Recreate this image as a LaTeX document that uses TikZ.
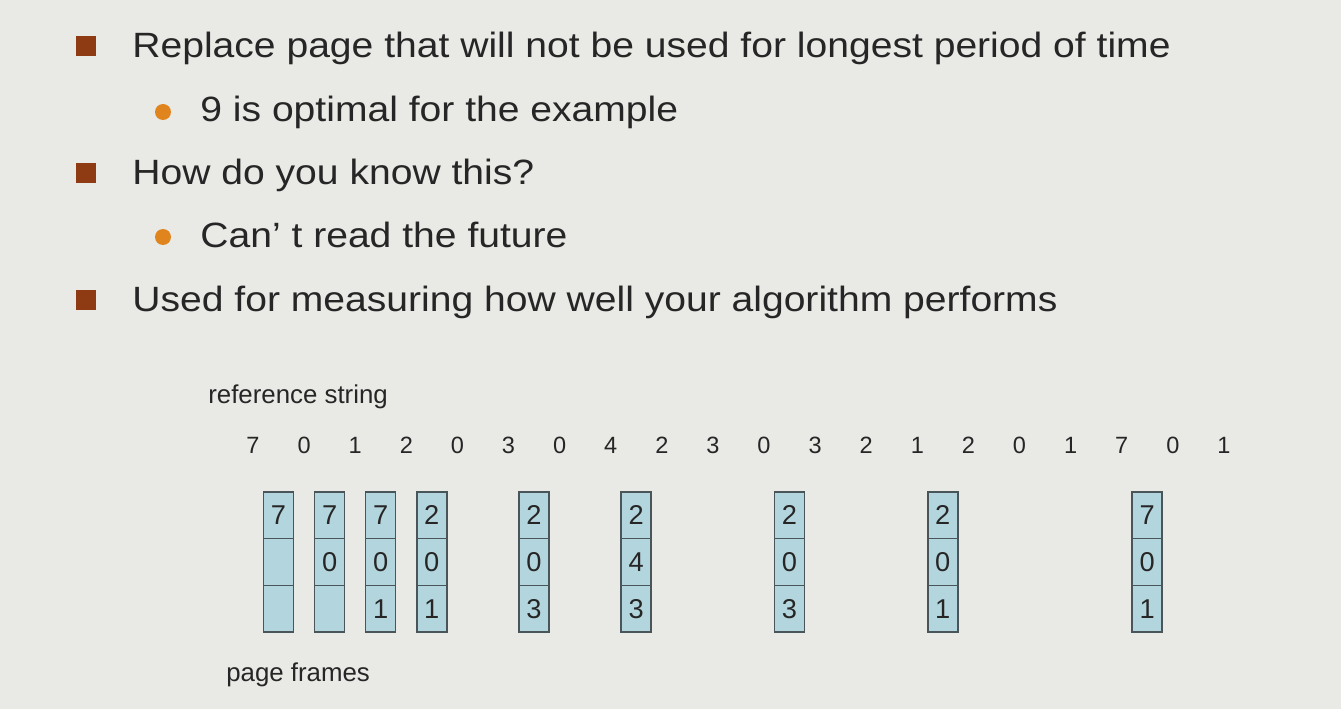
\documentclass[tikz,border=0pt]{standalone}
\usepackage{fontspec}
\setmainfont{Liberation Sans}
\usepackage{xcolor}
\usetikzlibrary{positioning}
\definecolor{SlideBg}{HTML}{E9E9E6}
\definecolor{BoxBlue}{HTML}{B3D5DD}
\definecolor{BoxLine}{HTML}{4A5559}
\definecolor{TextGrey}{HTML}{262626}
\definecolor{Rust}{HTML}{8E3A12}
\definecolor{Amber}{HTML}{E0851E}

\begin{document}
\begin{tikzpicture}[x=0.02cm, y=-0.02cm,
    txt/.style={anchor=base west, inner sep=0pt, xscale=1.112, text=TextGrey, font=\fontsize{20}{22}\selectfont},
    lbl/.style={anchor=base west, inner sep=0pt, text=TextGrey, font=\fontsize{14.7}{16}\selectfont},
    num/.style={inner sep=0pt, text=TextGrey, font=\fontsize{13.4}{14}\selectfont},
    sq/.style={fill=Rust, minimum size=0.4cm, inner sep=0pt},
    dot/.style={circle, fill=Amber, minimum size=0.32cm, inner sep=0pt},
    cell/.style={draw=BoxLine, line width=0.9pt, fill=BoxBlue, outer sep=0pt, inner sep=0pt,
        minimum width=0.6cm, minimum height=0.934cm, text=TextGrey, font=\fontsize{15.5}{16}\selectfont}]
        % Slide background
        \path[use as bounding box, fill=SlideBg] (0,0) rectangle (1341,709);

        % Draw the bullets
        \foreach \y[count=\c] in {46, 173, 300}{
            \node[sq] (s\c) at (86,\y) {};
        }
        \foreach \y[count=\c] in {112, 237}{
            \node[dot] (o\c) at (163,\y) {};
        }

        % Draw the bullet texts
        \node[txt] (l1) at (132,57.5) {Replace page that will not be used for longest period of time};
        \node[txt] (l2) at (200,121.5) {9 is optimal for the example};
        \node[txt] (l3) at (132,185) {How do you know this?};
        \node[txt] (l4) at (200,248) {Can’ t read the future};
        \node[txt] (l5) at (132,312) {Used for measuring how well your algorithm performs};

        % Draw the reference string
        \node[lbl] (refstr) at (208,403) {reference string};
        \foreach \r[count=\c from 0] in {7,0,1,2,0,3,0,4,2,3,0,3,2,1,2,0,1,7,0,1}{
            \node[num] (r\c) at ({253+51.1*\c},445) {\r};
        }

        % Draw the page frames
        \foreach \i/\a/\b/\c in {0/7/{}/{}, 1/7/0/{}, 2/7/0/1, 3/2/0/1, 5/2/0/3, 7/2/4/3, 10/2/0/3, 13/2/0/1, 17/7/0/1}{
            \node[cell] (t\i) at ({278.5+51.1*\i},515.3) {\a};
            \node[cell, below=0pt of t\i] (m\i) {\b};
            \node[cell, below=0pt of m\i] (b\i) {\c};
        }
        \node[lbl] (frames) at (226,681) {page frames};
    \end{tikzpicture}
\end{document}
